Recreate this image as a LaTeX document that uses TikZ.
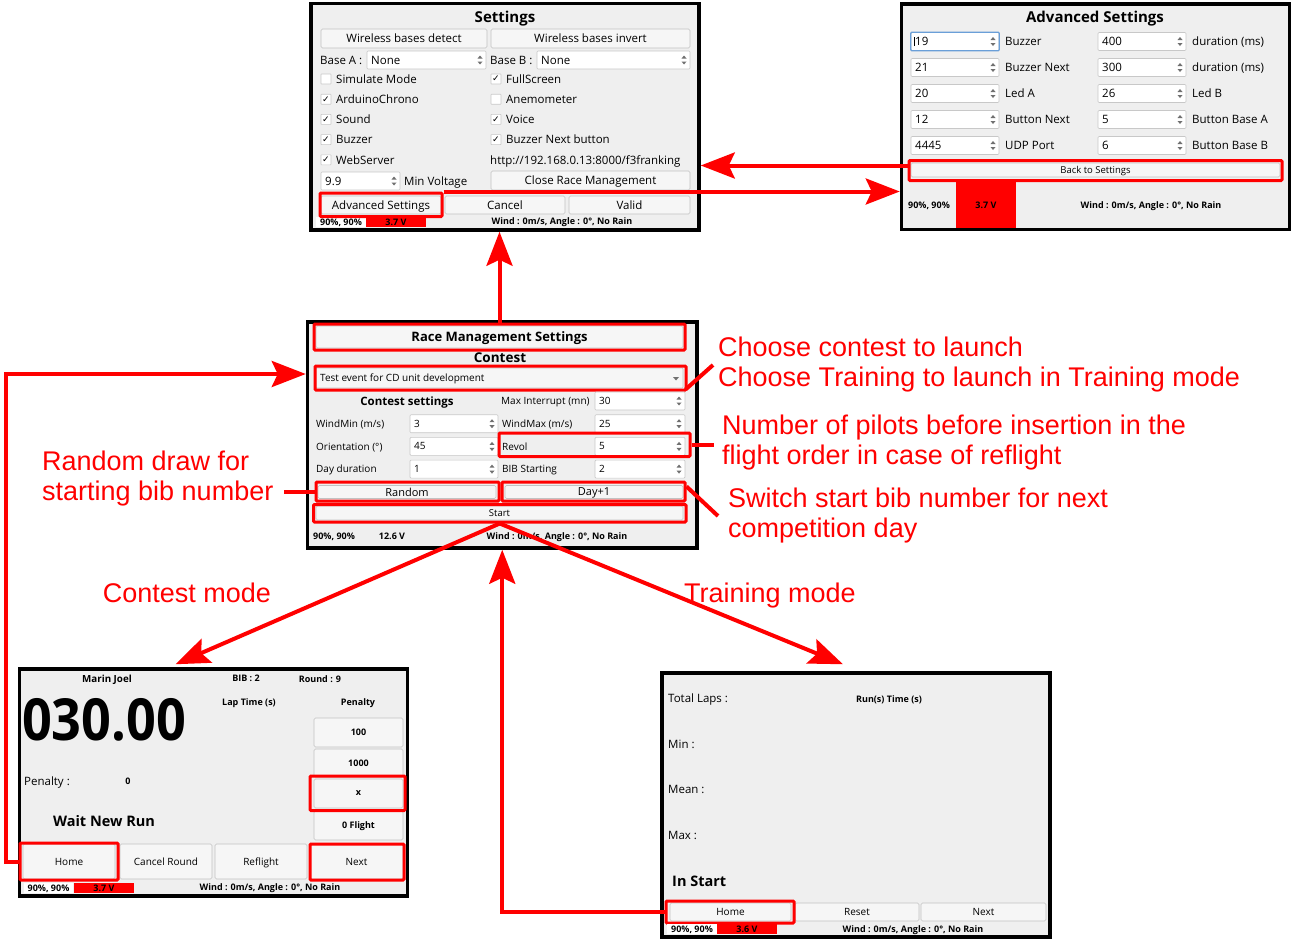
\documentclass[tikz,border=0pt]{standalone}
\usepackage{fontspec}
\usepackage{graphicx}
\setmainfont{Open Sans}
\newfontfamily\notefont{Liberation Sans}
\newfontfamily\symfont{DejaVu Sans}
\usetikzlibrary{arrows.meta}

\definecolor{winbg}{HTML}{EFEFEF}
\definecolor{btnline}{HTML}{C2C2C2}
\definecolor{btnfill}{HTML}{F6F6F6}
\definecolor{fieldline}{HTML}{C8C8C8}
\definecolor{focusblue}{HTML}{6A9FD8}
\definecolor{arrowgray}{HTML}{707070}

\newcommand\fsz[1]{\fontsize{#1}{#1}\selectfont}
\newcommand\uibox[7][]{%
    \node[#1, minimum width={(#5)-(#3)}, minimum height={(#6)-(#4)}] (#2)
        at ({((#3)+(#5))/2},{((#4)+(#6))/2}) {#7};}
\newcommand\spin[2]{%
    \fill[arrowgray] ({#1-2.5},{#2-1.5}) -- ({#1+2.5},{#2-1.5}) -- ({#1},{#2-4.5}) -- cycle;
    \fill[arrowgray] ({#1-2.5},{#2+1.5}) -- ({#1+2.5},{#2+1.5}) -- ({#1},{#2+4.5}) -- cycle;}
\newcommand\spinfield[6]{%
    \uibox[field]{#1}{#2}{#3}{#4}{#5}{}
    \node[lbl] (#1-v) at ({#2+4},{((#3)+(#5))/2}) {#6};
    \spin{#4-6}{((#3)+(#5))/2}}
\newcommand\checkitem[5]{%
    \node[field, rounded corners=0.5pt, minimum size=10] (#1) at ({#2+5},{#3})
        {\ifnum#4=1 \symfont\fsz{9}✓\fi};
    \node[lbl] (#1-t) at ({#2+15},{#3}) {#5};}

\begin{document}
\begin{tikzpicture}[x=1pt, y=-1pt,
    ui/.style={text depth=0pt},
    win/.style={draw=black, line width=3.5pt, fill=winbg},
    btn/.style={ui, draw=btnline, fill=btnfill, rounded corners=1.5pt, line width=0.6pt, inner sep=0pt},
    field/.style={ui, draw=fieldline, fill=white, rounded corners=1pt, line width=0.6pt, inner sep=0pt},
    hl/.style={draw=red, line width=3pt, rounded corners=1pt, inner sep=0pt},
    arr/.style={draw=red, line width=4pt, -{Stealth[length=34pt, width=26pt, inset=6pt]}},
    lead/.style={draw=red, line width=4pt},
    note/.style={text=red, font=\notefont\fontsize{27}{30}\selectfont, align=left, anchor=west, inner sep=0pt},
    lbl/.style={ui, anchor=west, inner sep=0pt},
    ttl/.style={ui, font=\bfseries\fsz{15}, inner sep=0pt},
    stat/.style={ui, font=\bfseries\fsz{9}, inner sep=0pt},
    batt/.style={ui, fill=red, inner sep=0pt, font=\bfseries\fsz{9}}
    ]
    \useasboundingbox[fill=white] (0,0) rectangle (1296,940);

    \uibox[win]{sw}{311}{3.5}{699}{230}{}
    \node[ttl] (swT) at (505,17) {Settings};
    \begin{scope}[every node/.append style={font=\fsz{11.5}}]
        \uibox[btn]{wbd}{321}{29}{487}{48}{Wireless bases detect}
        \uibox[btn]{wbi}{491}{29}{690}{48}{Wireless bases invert}
        \node[lbl] (baseA) at (320,60) {Base A :};
        \spinfield{fA}{367}{51}{486}{69}{None}
        \node[lbl] (baseB) at (490,60) {Base B :};
        \spinfield{fB}{537}{51}{690}{69}{None}
        \foreach \txt/\c [count=\i] in {Simulate Mode/0, ArduinoChrono/1, Sound/1, Buzzer/1, WebServer/1}
            {\checkitem{cl\i}{321}{58.8+20.2*\i}{\c}{\txt}}
        \foreach \txt/\c [count=\i] in {FullScreen/1, Anemometer/0, Voice/1, Buzzer Next button/1}
            {\checkitem{cr\i}{491}{58.8+20.2*\i}{\c}{\txt}}
        \node[lbl] (url) at (490,160) {http://192.168.0.13:8000/f3franking};
        \spinfield{fV}{321}{172}{400}{190}{9.9}
        \node[lbl] (minV) at (404,181) {Min Voltage};
        \uibox[btn]{crm}{491}{171}{690}{190}{Close Race Management}
        \uibox[btn]{bAdv}{321}{196}{441}{214}{Advanced Settings}
        \uibox[btn]{bCancel}{445}{196}{565}{214}{Cancel}
        \uibox[btn]{bValid}{569}{196}{690}{214}{Valid}
    \end{scope}
    \uibox[fill=white, stat]{swP}{316}{216.5}{366}{227}{90\%, 90\%}
    \uibox[batt]{swB}{366}{216.5}{426}{227}{3.7 V}
    \node[stat] (swW) at (562,221.5) {Wind : 0m/s, Angle : 0°, No Rain};
    \uibox[hl]{hlAdv}{320}{193}{442}{216.5}{}

    \uibox[win]{aw}{901.5}{4}{1289.5}{229.5}{}
    \node[ttl] (awT) at (1095,17) {Advanced Settings};
    \begin{scope}[every node/.append style={font=\fsz{11.5}}]
        \foreach \va/\la/\vb/\lb [count=\i] in {19/Buzzer/400/duration (ms), 21/Buzzer Next/300/duration (ms),
                20/Led A/26/Led B, 12/Button Next/5/Button Base A, 4445/UDP Port/6/Button Base B} {
            \spinfield{al\i}{911}{6.5+26*\i}{999}{24.5+26*\i}{\va}
            \node[lbl] (al\i-l) at (1005,{15.5+26*\i}) {\la};
            \spinfield{ar\i}{1098}{6.5+26*\i}{1186}{24.5+26*\i}{\vb}
            \node[lbl] (ar\i-l) at (1192,{15.5+26*\i}) {\lb};
        }
    \end{scope}
    \draw[focusblue, line width=1.2pt, rounded corners=1pt] (al1.south west) rectangle (al1.north east);
    \draw[line width=0.6pt] ([xshift=-1pt]al1-v.north west) -- ([xshift=-1pt]al1-v.south west);
    \uibox[btn, font=\fsz{9.5}]{bBack}{911}{163}{1280}{177}{Back to Settings}
    \uibox[hl]{hlBack}{909}{160.5}{1282}{180.5}{}
    \node[stat] (awP) at (929,205) {90\%, 90\%};
    \uibox[batt]{awB}{956}{182}{1016}{228}{3.7 V}
    \node[stat] (awW) at (1151,205) {Wind : 0m/s, Angle : 0°, No Rain};

    \uibox[win]{rw}{307.5}{322}{697}{548}{}
    \uibox[btn, font=\bfseries\fsz{13}]{rTitle}{316}{326}{683}{348}{Race Management Settings}
    \uibox[hl]{hlTitle}{314}{324}{685}{350}{}
    \node[ui, font=\bfseries\fsz{13.5}, inner sep=0pt] (rContest) at (500,358) {Contest};
    \begin{scope}[every node/.append style={font=\fsz{10}}]
        \uibox[btn, rounded corners=1pt]{combo}{316}{368}{683}{388}{}
        \node[lbl] (combo-v) at (320,378) {Test event for CD unit development};
        \fill[arrowgray] (673,377) -- (679,377) -- (676,380.5) -- cycle;
        \uibox[hl]{hlCombo}{315}{366}{686}{390}{}
        \node[ui, font=\bfseries\fsz{11.5}, inner sep=0pt] (cset) at (407,401) {Contest settings};
        \node[lbl] (mi) at (501,401) {Max Interrupt (mn)};
        \spinfield{fMI}{595}{392}{685}{410}{30}
        \foreach \la/\va/\lb/\vb [count=\i] in {{WindMin (m/s)}/3/{WindMax (m/s)}/25,
                Orientation (°)/45/Revol/5, Day duration/1/BIB Starting/2} {
            \node[lbl] (rl\i) at (316,{401+22.7*\i}) {\la};
            \spinfield{rfl\i}{410}{392+22.7*\i}{498}{410+22.7*\i}{\va}
            \node[lbl] (rr\i) at (502,{401+22.7*\i}) {\lb};
            \spinfield{rfr\i}{595}{392+22.7*\i}{685}{410+22.7*\i}{\vb}
        }
        \uibox[hl]{hlRevol}{499}{433}{690}{456.5}{}
        \uibox[btn, font=\fsz{11}]{bRandom}{318}{485.5}{496}{498.5}{Random}
        \uibox[btn, font=\fsz{11}]{bDay}{505}{485.5}{683}{498.5}{Day+1}
        \uibox[hl]{hlRandom}{316}{482}{499}{501}{}
        \uibox[hl]{hlDay}{502}{482}{685}{501}{}
        \uibox[btn, font=\fsz{9.5}]{bStart}{316}{506}{683}{520}{Start}
        \uibox[hl]{hlStart}{313.5}{504.5}{686}{522}{}
    \end{scope}
    \node[stat, anchor=west] (rwP) at (313,536) {90\%, 90\%};
    \node[stat] (rwV) at (392,536) {12.6 V};
    \node[stat] (rwW) at (557,536) {Wind : 0m/s, Angle : 0°, No Rain};

    \uibox[win]{cw}{19.5}{669}{407.5}{896}{}
    \node[stat, font=\bfseries\fsz{9.8}] (pilot) at (107,679) {Marin Joel};
    \node[stat] (bib) at (246,678) {BIB : 2};
    \node[stat] (round) at (320,679) {Round : 9};
    \node[ui, font=\bfseries\fsz{58}, inner sep=0pt] (chrono) at (104,719) {\scalebox{0.9}[1]{030.00}};
    \node[stat] (lap) at (249,702) {Lap Time (s)};
    \node[stat] (pen) at (358,702) {Penalty};
    \foreach \t/\ya/\yb [count=\i] in {100/718/747, 1000/749/777, x/779/808, 0 Flight/811/840}
        {\uibox[btn, font=\bfseries\fsz{9}]{pb\i}{314}{\ya}{403}{\yb}{\t}}
    \uibox[hl]{hlX}{310}{776}{405}{810.5}{}
    \node[lbl, font=\fsz{11.5}] (penL) at (24,781) {Penalty :};
    \node[stat] (penV) at (128,781) {0};
    \node[ui, font=\bfseries\fsz{14.5}, inner sep=0pt] (wait) at (104,821) {Wait New Run};
    \foreach \t/\xa/\xb [count=\i] in {Home/23/115, Cancel Round/120/212, Reflight/215/307, Next/310/403}
        {\uibox[btn, font=\fsz{10}]{cb\i}{\xa}{844}{\xb}{879}{\t}}
    \uibox[hl]{hlHome}{20}{843}{118}{880}{}
    \uibox[hl]{hlNext}{310}{844}{404}{880}{}
    \uibox[fill=white, stat]{cwP}{24}{883}{73}{893}{90\%, 90\%}
    \uibox[batt]{cwB}{74}{883}{134}{893}{3.7 V}
    \node[stat] (cwW) at (270,887.5) {Wind : 0m/s, Angle : 0°, No Rain};

    \uibox[win]{tw}{662}{673}{1050}{937}{}
    \foreach \t/\y [count=\i] in {Total Laps :/698, Min :/744, Mean :/789, Max :/835}
        {\node[lbl, font=\fsz{11.5}] (tl\i) at (668,\y) {\t};}
    \node[stat] (runs) at (889,699) {Run(s) Time (s)};
    \node[lbl, font=\bfseries\fsz{14.5}] (inStart) at (672,881) {In Start};
    \foreach \t/\xa/\xb [count=\i] in {Home/670/791, Reset/795/919, Next/921/1046}
        {\uibox[btn, font=\fsz{10}]{tb\i}{\xa}{903}{\xb}{921}{\t}}
    \uibox[hl]{hlTHome}{666}{901}{794}{923}{}
    \uibox[fill=white, stat]{twP}{667}{924}{717}{934}{90\%, 90\%}
    \uibox[batt]{twB}{717}{924}{777}{934}{3.6 V}
    \node[stat] (twW) at (913,929) {Wind : 0m/s, Angle : 0°, No Rain};

    \node[note] (noteCombo) at (718,365) {Choose contest to launch\\Choose Training to launch in Training mode};
    \node[note] (noteRevol) at (722,443) {Number of pilots before insertion in the\\flight order in case of reflight};
    \node[note] (noteDay) at (728,516) {Switch start bib number for next\\competition day};
    \node[note] (noteRandom) at (42,479) {Random draw for\\starting bib number};
    \node[note, anchor=center, text depth=0pt] (modeC) at (187,593) {Contest mode};
    \node[note, anchor=center, text depth=0pt] (modeT) at (770,593) {Training mode};

    \draw[lead] ([xshift=-2pt,yshift=2pt]hlCombo.south east) -- ([xshift=-5pt]noteCombo.west);
    \coordinate (revolEnd) at ([xshift=-8pt]noteRevol.west);
    \draw[lead] (hlRevol.east) -- (hlRevol.east -| revolEnd);
    \draw[lead] ([yshift=-6pt]hlDay.north east) -- ([xshift=-10pt]noteDay.west);
    \coordinate (rndEnd) at ([xshift=10pt]noteRandom.east);
    \draw[lead] (hlRandom.west) -- (hlRandom.west -| rndEnd);

    \draw[arr] (hlTitle.north) -- (hlTitle.north |- sw.south);
    \coordinate (backIn) at ([yshift=5pt]hlBack.west);
    \draw[arr] (backIn) -- (backIn -| sw.east);
    \draw[arr] (hlAdv.north east) -- (hlAdv.north east -| aw.west);
    \coordinate (comboIn) at ([yshift=4pt]hlCombo.west);
    \draw[arr] (hlHome.west) -- ++(-13,0) |- (comboIn -| rw.west);
    \coordinate (cwIn) at ([xshift=-38pt,yshift=3pt]cw.north);
    \coordinate (twIn) at ([xshift=-13pt,yshift=7pt]tw.north);
    \draw[arr] (hlStart.south) -- (cwIn);
    \draw[arr] (hlStart.south) -- (twIn);
    \draw[arr] (hlTHome.west) -| (rw.south);
\end{tikzpicture}
\end{document}
